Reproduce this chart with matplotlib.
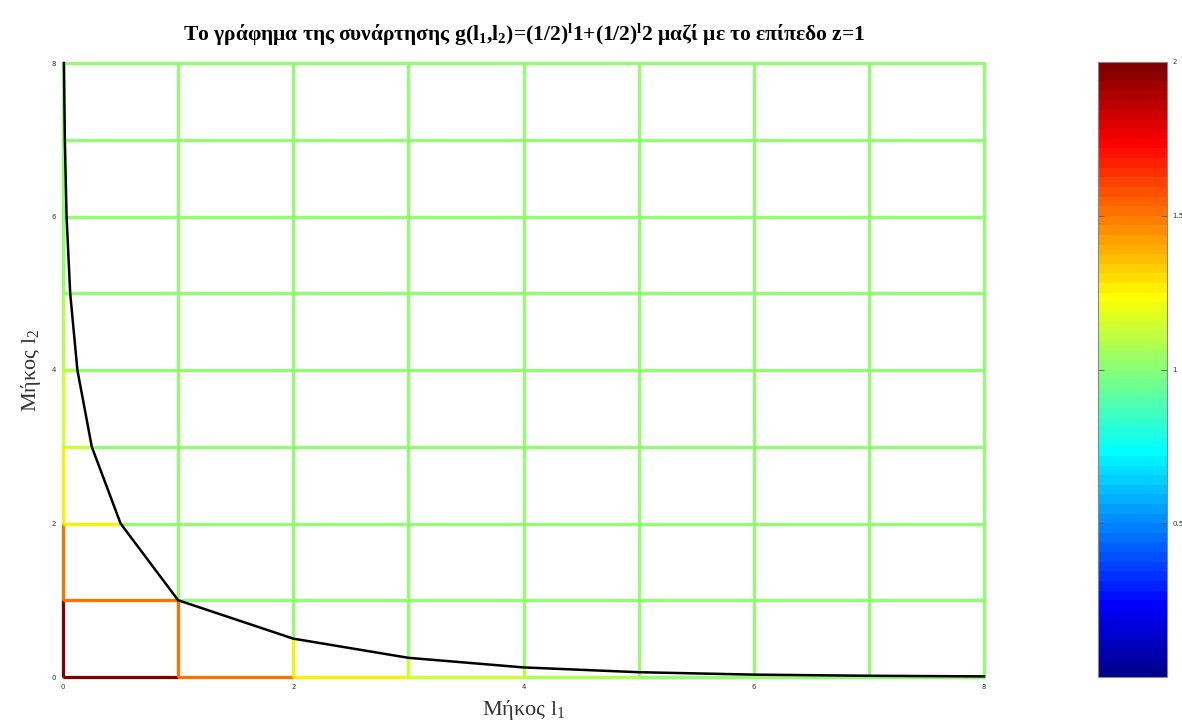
import numpy as np
import matplotlib
matplotlib.use('Agg')
from matplotlib import pyplot as plt
from matplotlib.colors import Normalize, ListedColormap
from matplotlib import cm

plt.rcParams['mathtext.fontset'] = 'custom'
plt.rcParams['mathtext.rm'] = 'Liberation Serif'
plt.rcParams['mathtext.bf'] = 'Liberation Serif:bold'
plt.rcParams['mathtext.it'] = 'Liberation Serif:italic'

# grid of the mesh (l1, l2 = 0..8)
grid_pos = [0, 1, 2, 3, 4, 5, 6, 7, 8]
# surface value g along the axes, at l = 0..7 (colours the unit edge starting there)
edge_vals = [2.0, 1.5, 1.25, 1.125, 1.0625, 1.031, 1.016, 1.008]
# where grid line l=k (k=1..8) leaves the region g>1
cut_pos = [1.0, 0.5, 0.25, 0.125, 0.0625, 0.031, 0.016, 0.008]
# intersection curve g(l1,l2)=1
curve_l1 = [0.008, 0.016, 0.031, 0.0625, 0.125, 0.25, 0.5, 1, 2, 3, 4, 5, 6, 7, 8]
curve_l2 = [8, 7, 6, 5, 4, 3, 2, 1, 0.5, 0.25, 0.125, 0.0625, 0.031, 0.016, 0.008]
plane_z = 1.0
cbar_ticks = [0.5, 1, 1.5, 2]


def matlab_jet(n=64):
    # piecewise jet as in matlab, n colours
    i = np.arange(1, n+1)
    q = n//8
    r = np.clip(np.minimum((i - 3*q)/(2*q), 1 - (i - 7*q)/(2*q)), 0, 1)
    g = np.clip(np.minimum((i - q)/(2*q), 1 - (i - 5*q)/(2*q)), 0, 1)
    b = np.clip(np.minimum(0.5 + i/(2*q), 1 - (i - 3*q)/(2*q)), 0, 1)
    return ListedColormap(np.column_stack([r, g, b]))


cmap = matlab_jet(64)
the_norm = Normalize(vmin=0., vmax=2.)
lw = 2.3

fig = plt.figure(figsize=[11.82, 7.27], dpi=100)
ax = fig.add_axes([63/1182, 1-677/727, (984-63)/1182, (677-63)/727])

# plane z=1 mesh
green = cmap(the_norm(plane_z))
for p in grid_pos:
    ax.plot([p, p], [0, 8], color=green, lw=lw, solid_capstyle='projecting', zorder=1, clip_on=False)
    ax.plot([0, 8], [p, p], color=green, lw=lw, solid_capstyle='projecting', zorder=1, clip_on=False)

# surface mesh above the plane
for j, v in enumerate(edge_vals):
    c = cmap(the_norm(v))
    ax.plot([j, j+1], [0, 0], color=c, lw=lw, solid_capstyle='butt', zorder=2, clip_on=False)
    ax.plot([0, 0], [j, j+1], color=c, lw=lw, solid_capstyle='butt', zorder=2, clip_on=False)
for k, xc in enumerate(cut_pos[:-1]):
    c = cmap(the_norm(edge_vals[k+1]))
    ax.plot([0, xc], [k+1, k+1], color=c, lw=lw, solid_capstyle='butt', zorder=2, clip_on=False)
    ax.plot([k+1, k+1], [0, xc], color=c, lw=lw, solid_capstyle='butt', zorder=2, clip_on=False)

ax.plot(curve_l1, curve_l2, color='k', lw=1.8, zorder=3, clip_on=False)

ax.set_xlim(0, 8)
ax.set_ylim(0, 8)
ax.set_xticks([0, 2, 4, 6, 8])
ax.set_yticks([0, 2, 4, 6, 8])
ax.tick_params(length=0, labelsize=5, labelcolor='#333333', pad=5)
for s in ax.spines.values():
    s.set_visible(False)

ax.set_xlabel(r'Μήκος l$_{1}$', fontsize=16, family='Liberation Serif', color='#333333', labelpad=6)
ax.set_ylabel(r'Μήκος l$_{2}$', fontsize=16, family='Liberation Serif', color='#333333', labelpad=6)
ax.set_title(r'Το γράφημα της συνάρτησης g(l$_\mathbf{1}$,l$_\mathbf{2}$)=(1/2)$^\mathbf{l}$1+(1/2)$^\mathbf{l}$2 μαζί με το επίπεδο z=1',
             fontsize=15.5, family='Liberation Serif', fontweight='bold', pad=16)

cax = fig.add_axes([1098/1182, 1-677/727, (1167-1098)/1182, (677-62)/727])
sm = cm.ScalarMappable(norm=the_norm, cmap=cmap)
cb = fig.colorbar(sm, cax=cax, ticks=cbar_ticks)
cb.ax.set_yticklabels(['0.5', '1', '1.5', '2'])
cb.ax.tick_params(labelsize=5, labelcolor='#333333', length=4, width=0.6, direction='in', color='#555555', left=True, right=True, pad=4)
cb.outline.set_edgecolor('#888888')
cb.outline.set_linewidth(0.8)

fig.savefig('out.png', dpi=100)
